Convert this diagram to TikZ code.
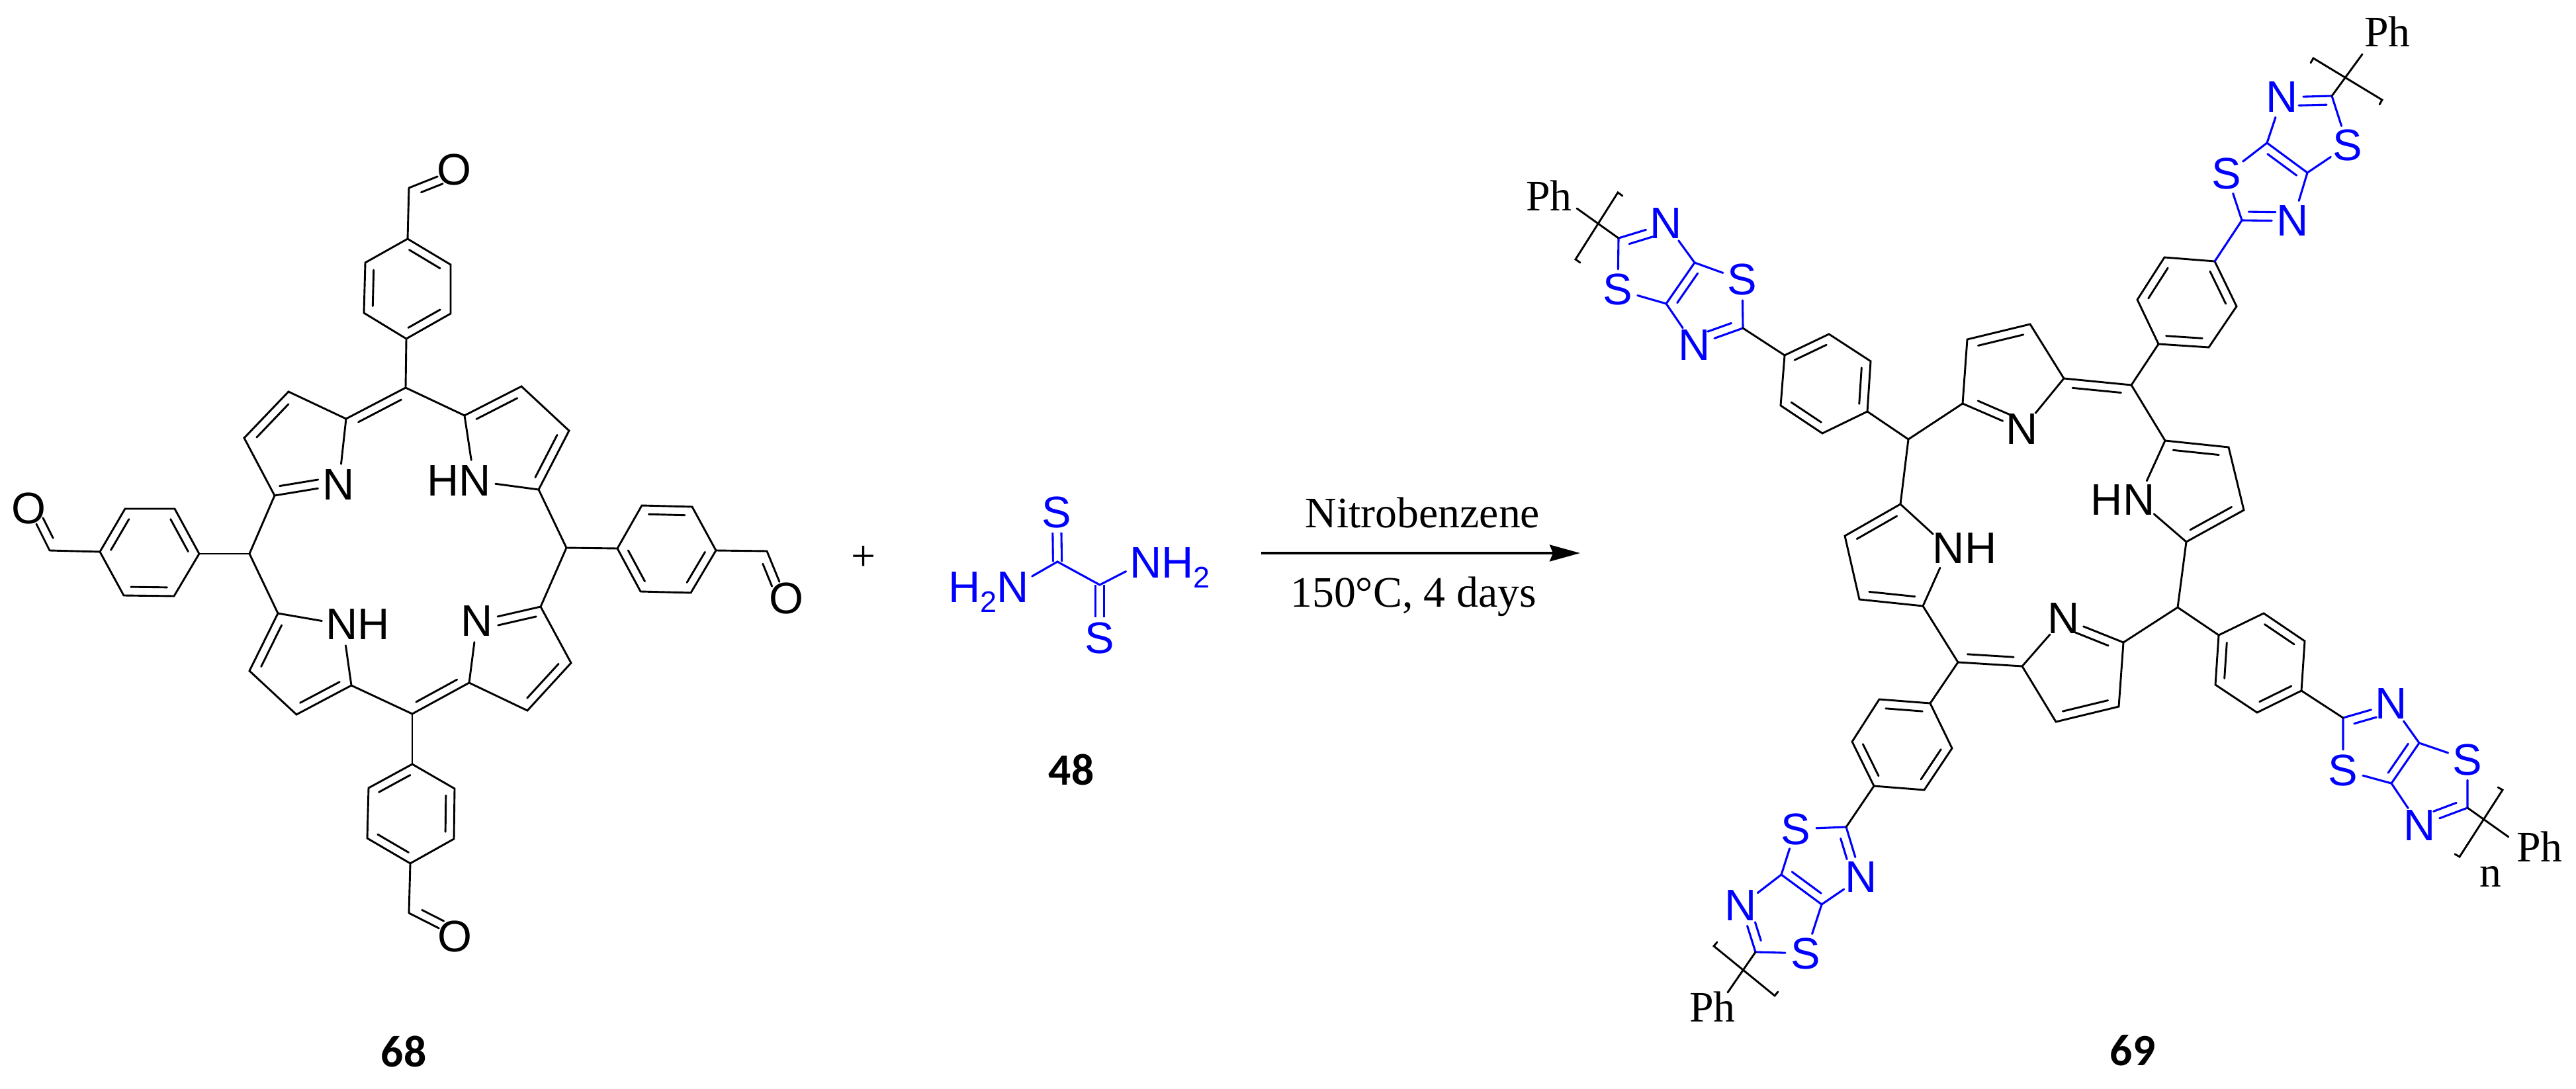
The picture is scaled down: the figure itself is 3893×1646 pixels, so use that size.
\documentclass[tikz,border=0pt]{standalone}
\usepackage{fontspec}
\setmainfont{Liberation Serif}
\newfontfamily\atomfam{Liberation Sans}
\newfontfamily\numfam{Carlito}
\usetikzlibrary{calc,arrows.meta}
\definecolor{thz}{RGB}{0,0,255}
\newcommand{\atomf}{\atomfam\fontsize{19pt}{21pt}\selectfont}
\newcommand{\serf}{\rmfamily\fontsize{18.7pt}{20pt}\selectfont}
\newcommand{\numf}{\numfam\bfseries\fontsize{19.2pt}{22pt}\selectfont}
\newcommand{\subtwo}{\raisebox{-4.4pt}{\fontsize{12.8pt}{14pt}\selectfont 2}}
\newcommand{\ibf}[4]{\draw ($(#1)!#3!(#2)!0.13cm!-90:(#2)$) -- ($(#1)!#4!(#2)!0.13cm!-90:(#2)$);}
\newcommand{\ib}[2]{\ibf{#1}{#2}{0.14}{0.86}}
\tikzset{
  atomlabel/.style={circle,inner sep=-0.01cm,outer sep=0pt,font=\atomf},
  oxlabel/.style={circle,inner sep=-0.06cm,outer sep=0pt,font=\atomf},
  hookpt/.style={circle,inner sep=0pt,outer sep=0pt,minimum size=0.64cm},
  textlabel/.style={inner sep=0pt,outer sep=0pt,anchor=base,font=\atomf},
  serlabel/.style={inner sep=0pt,outer sep=0pt,anchor=base,font=\serf},
  numlabel/.style={inner sep=0pt,outer sep=0pt,anchor=base,font=\numf},
  bondline/.style={line width=0.029cm,line cap=round,line join=miter},
  blueline/.style={color=thz,line width=0.031cm,line cap=round,line join=miter},
}
\begin{document}
\begin{tikzpicture}[x=0.01cm,y=-0.01cm]
\useasboundingbox (0,0) rectangle (3893,1646);
\fill[white] (0,0) rectangle (3893,1646);
%%%%% compound 68
\begin{scope}[bondline]
\coordinate (t1) at (616,361); \coordinate (t2) at (681,400); \coordinate (t3) at (681,474);
\coordinate (t4) at (614,512); \coordinate (t5) at (550,473); \coordinate (t6) at (552,397);
\coordinate (tc) at (618,284); \node[oxlabel] (tO) at (686,257) {O};
\coordinate (m1) at (613,586);
\coordinate (a1) at (415,749); \coordinate (a2) at (369,662); \coordinate (a3) at (436,592); \coordinate (a4) at (523,633);
\node[atomlabel] (N1) at (512,733) {N};
\coordinate (c1) at (702,628); \coordinate (c2) at (788,584); \coordinate (c3) at (860,651); \coordinate (c4) at (814,740);
\node[textlabel,anchor=center] (HNa) at (694,727) {HN}; \node[hookpt] (HNah) at (717,727) {};
\coordinate (rm) at (856,828);
\coordinate (e1) at (933,829); \coordinate (e2) at (970,764); \coordinate (e3) at (1046,766);
\coordinate (e4) at (1082,832); \coordinate (e5) at (1044,896); \coordinate (e6) at (968,894);
\coordinate (rc) at (1159,833); \node[oxlabel] (rO) at (1188,904) {O};
\coordinate (f1) at (817,917); \coordinate (f2) at (863,1002); \coordinate (f3) at (797,1074); \coordinate (f4) at (709,1032);
\node[atomlabel] (N2) at (721,939) {N};
\coordinate (m3) at (623,1079);
\coordinate (g1) at (531,1036); \coordinate (g2) at (448,1080); \coordinate (g3) at (377,1014); \coordinate (g4) at (420,927);
\node[textlabel,anchor=center] (NHa) at (541,944) {NH}; \node[hookpt] (NHah) at (518,944) {};
\coordinate (lm) at (377,837);
\coordinate (h1) at (301,837); \coordinate (h2) at (263,901); \coordinate (h3) at (187,900);
\coordinate (h4) at (151,834); \coordinate (h5) at (189,769); \coordinate (h6) at (264,769);
\coordinate (lc) at (75,832); \node[oxlabel] (lO) at (43,768) {O};
\coordinate (i1) at (623,1155); \coordinate (i2) at (687,1192); \coordinate (i3) at (686,1268);
\coordinate (i4) at (620,1305); \coordinate (i5) at (555,1267); \coordinate (i6) at (557,1191);
\coordinate (bc) at (618,1380); \node[oxlabel] (bO) at (687,1415) {O};
% rings
\draw (t1)--(t2)--(t3)--(t4)--(t5)--(t6)--cycle; \ib{t1}{t2} \ib{t3}{t4} \ib{t5}{t6}
\draw (e1)--(e2)--(e3)--(e4)--(e5)--(e6)--cycle; \ib{e2}{e3} \ib{e4}{e5} \ib{e6}{e1}
\draw (h1)--(h2)--(h3)--(h4)--(h5)--(h6)--cycle; \ib{h2}{h3} \ib{h4}{h5} \ib{h6}{h1}
\draw (i1)--(i2)--(i3)--(i4)--(i5)--(i6)--cycle; \ib{i2}{i3} \ib{i4}{i5} \ib{i6}{i1}
% aldehydes
\draw (t1)--(tc); \draw (tc)--(tO); \ibf{tc}{tO}{0.2}{0.68}
\draw (e4)--(rc); \draw (rc)--(rO); \ibf{rc}{rO}{0.2}{0.68}
\draw (h4)--(lc); \draw (lc)--(lO); \ibf{lc}{lO}{0.2}{0.68}
\draw (i4)--(bc); \draw (bc)--(bO); \ibf{bO}{bc}{0.32}{0.8}
% pyrroles
\draw (N1)--(a1)--(a2)--(a3)--(a4)--(N1); \ib{a2}{a3} \ibf{N1}{a1}{0.3}{0.9}
\draw (HNah)--(c1)--(c2)--(c3)--(c4)--(HNah); \ib{c1}{c2} \ib{c3}{c4}
\draw (N2)--(f1)--(f2)--(f3)--(f4)--(N2); \ib{f2}{f3} \ibf{N2}{f1}{0.3}{0.9}
\draw (NHah)--(g1)--(g2)--(g3)--(g4)--(NHah); \ib{g1}{g2} \ib{g3}{g4}
% meso links
\draw (t4)--(m1); \draw (a4)--(m1); \ib{a4}{m1} \draw (m1)--(c1);
\draw (c4)--(rm)--(f1); \draw (rm)--(e1);
\draw (f4)--(m3); \ib{f4}{m3} \draw (m3)--(g1); \draw (m3)--(i1);
\draw (g4)--(lm)--(a1); \draw (lm)--(h1);
\end{scope}
\node[numlabel] (lab68) at (610,1612) {68};
%%%%% plus
\node[serlabel,anchor=center] (plus) at (1305,844) {+};
%%%%% compound 48
\begin{scope}[blueline]
\coordinate (oa) at (1598,849); \coordinate (ob) at (1662,884);
\node[atomlabel] (oS1) at (1597,774) {S};
\node[atomlabel] (oS2) at (1662,964) {S};
\node[textlabel] (oHN) at (1494,910) {H\subtwo N}; \node[hookpt] (oHNh) at (1532,887) {};
\node[textlabel] (oNH) at (1768,873) {NH\subtwo}; \node[hookpt] (oNHh) at (1730,849) {};
\draw[double=white,double distance=0.1cm,line cap=butt] (oa)--(oS1);
\draw[double=white,double distance=0.1cm,line cap=butt] (ob)--(oS2);
\draw (oHNh)--(oa)--(ob)--(oNHh);
\end{scope}
\node[numlabel] (lab48) at (1619,1186) {48};
%%%%% arrow
\coordinate (arrS) at (1906,836); \coordinate (arrE) at (2388,836);
\draw[line width=0.036cm,-{Stealth[length=0.46cm,width=0.25cm,inset=0.05cm]}] (arrS)--(arrE);
\node[serlabel] (nitro) at (2150,797) {Nitrobenzene};
\node[serlabel] (cond) at (2136,917) {150°C, 4 days};
%%%%% compound 69 : porphyrin core
\begin{scope}[bondline]
\coordinate (mT) at (3221,582); \coordinate (mR) at (3291,918); \coordinate (mB) at (2959,1001); \coordinate (mL) at (2884,664);
\coordinate (pA1) at (3119,572); \coordinate (pA2) at (3068,490); \coordinate (pA3) at (2973,513); \coordinate (pA4) at (2966,610);
\node[atomlabel] (NA) at (3056,649) {N};
\coordinate (hA1) at (3272,666); \coordinate (hA2) at (3368,676); \coordinate (hA3) at (3391,771); \coordinate (hA4) at (3304,819);
\node[textlabel,anchor=center] (HNb) at (3208,756) {HN}; \node[hookpt] (HNbh) at (3231,756) {};
\coordinate (lA1) at (3209,971); \coordinate (lA2) at (3202,1068); \coordinate (lA3) at (3107,1091); \coordinate (lA4) at (3056,1007);
\node[atomlabel] (NL) at (3119,935) {N};
\coordinate (nA1) at (2906,916); \coordinate (nA2) at (2810,906); \coordinate (nA3) at (2788,810); \coordinate (nA4) at (2872,762);
\node[textlabel,anchor=center] (NHb) at (2969,829) {NH}; \node[hookpt] (NHbh) at (2945,829) {};
\coordinate (ra1) at (3347,395); \coordinate (ra2) at (3380,463); \coordinate (ra3) at (3338,525);
\coordinate (ra4) at (3262,520); \coordinate (ra5) at (3230,453); \coordinate (ra6) at (3271,389);
\coordinate (rb1) at (2822,622); \coordinate (rb2) at (2827,546); \coordinate (rb3) at (2764,505);
\coordinate (rb4) at (2697,537); \coordinate (rb5) at (2691,613); \coordinate (rb6) at (2754,655);
\coordinate (rc1) at (2917,1063); \coordinate (rc2) at (2950,1131); \coordinate (rc3) at (2908,1194);
\coordinate (rc4) at (2832,1188); \coordinate (rc5) at (2799,1121); \coordinate (rc6) at (2840,1057);
\coordinate (rd1) at (3353,960); \coordinate (rd2) at (3421,927); \coordinate (rd3) at (3483,969);
\coordinate (rd4) at (3478,1044); \coordinate (rd5) at (3411,1077); \coordinate (rd6) at (3348,1035);
\draw (ra1)--(ra2)--(ra3)--(ra4)--(ra5)--(ra6)--cycle; \ib{ra1}{ra2} \ib{ra3}{ra4} \ib{ra5}{ra6}
\draw (rb1)--(rb2)--(rb3)--(rb4)--(rb5)--(rb6)--cycle; \ib{rb4}{rb3} \ib{rb2}{rb1} \ib{rb6}{rb5}
\draw (rc1)--(rc2)--(rc3)--(rc4)--(rc5)--(rc6)--cycle; \ib{rc2}{rc3} \ib{rc4}{rc5} \ib{rc6}{rc1}
\draw (rd1)--(rd2)--(rd3)--(rd4)--(rd5)--(rd6)--cycle; \ib{rd6}{rd1} \ib{rd2}{rd3} \ib{rd4}{rd5}
\draw (pA1)--(pA2)--(pA3)--(pA4)--(NA)--(pA1); \ib{pA3}{pA2} \ibf{NA}{pA4}{0.24}{0.8}
\draw (HNbh)--(hA1)--(hA2)--(hA3)--(hA4)--(HNbh); \ib{hA1}{hA2} \ib{hA3}{hA4}
\draw (NL)--(lA1)--(lA2)--(lA3)--(lA4)--(NL); \ib{lA2}{lA3} \ibf{NL}{lA1}{0.25}{0.8}
\draw (NHbh)--(nA1)--(nA2)--(nA3)--(nA4)--(NHbh); \ib{nA1}{nA2} \ib{nA3}{nA4}
\draw (pA1)--(mT); \ib{pA1}{mT} \draw (mT)--(hA1); \draw (mT)--(ra4);
\draw (hA4)--(mR)--(lA1); \draw (mR)--(rd1);
\draw (lA4)--(mB); \ib{lA4}{mB} \draw (mB)--(nA1); \draw (mB)--(rc1);
\draw (nA4)--(mL)--(pA4); \draw (mL)--(rb1);
\end{scope}
%%%%% compound 69 : top right thiazolothiazole
\begin{scope}[blueline]
\coordinate (qa1) at (3388,333); \coordinate (qa2) at (3426,216); \coordinate (qa3) at (3487,261); \coordinate (qa4) at (3524,145);
\node[atomlabel] (qS1) at (3365,263) {S}; \node[atomlabel] (qN1) at (3465,334) {N};
\node[atomlabel] (qN2) at (3449,147) {N}; \node[atomlabel] (qS2) at (3548,220) {S};
\draw (ra1)--(qa1); \draw (qa1)--(qS1)--(qa2); \draw (qa1)--(qN1)--(qa3);
\ibf{qN1}{qa1}{0.34}{0.87}
\draw (qa2)--(qa3); \ib{qa2}{qa3}
\draw (qa2)--(qN2)--(qa4); \ibf{qN2}{qa4}{0.33}{0.89}
\draw (qa3)--(qS2)--(qa4);
\end{scope}
%%%%% top left thiazolothiazole
\begin{scope}[blueline]
\coordinate (sa1) at (2634,496); \coordinate (sa2) at (2561,397); \coordinate (sa3) at (2518,459); \coordinate (sa4) at (2446,360);
\node[atomlabel] (sS1) at (2633,423) {S}; \node[atomlabel] (sN1) at (2561,522) {N};
\node[atomlabel] (sN2) at (2518,338) {N}; \node[atomlabel] (sS2) at (2445,438) {S};
\draw (sa1)--(sS1)--(sa2); \draw (sa1)--(sN1)--(sa3);
\ibf{sa1}{sN1}{0.18}{0.67}
\draw (sa3)--(sa2); \ib{sa3}{sa2}
\draw (sa2)--(sN2)--(sa4); \ibf{sa4}{sN2}{0.17}{0.67}
\draw (sa3)--(sS2)--(sa4);
\end{scope}
%%%%% bottom left thiazolothiazole
\begin{scope}[blueline]
\coordinate (ua1) at (2790,1250); \coordinate (ua2) at (2753,1367); \coordinate (ua3) at (2692,1322); \coordinate (ua4) at (2653,1439);
\node[atomlabel] (uS1) at (2714,1253) {S}; \node[atomlabel] (uN1) at (2813,1326) {N};
\node[atomlabel] (uN2) at (2631,1369) {N}; \node[atomlabel] (uS2) at (2729,1441) {S};
\draw (ua1)--(uS1)--(ua3); \draw (ua1)--(uN1)--(ua2);
\ibf{ua1}{uN1}{0.18}{0.59}
\draw (ua2)--(ua3); \ib{ua2}{ua3}
\draw (ua3)--(uN2)--(ua4); \ibf{ua4}{uN2}{0.19}{0.59}
\draw (ua2)--(uS2)--(ua4);
\end{scope}
%%%%% bottom right thiazolothiazole
\begin{scope}[blueline]
\coordinate (va1) at (3541,1085); \coordinate (va2) at (3656,1123); \coordinate (va3) at (3614,1184); \coordinate (va4) at (3729,1221);
\node[atomlabel] (vS1) at (3541,1164) {S}; \node[atomlabel] (vN1) at (3614,1064) {N};
\node[atomlabel] (vS2) at (3729,1148) {S}; \node[atomlabel] (vN2) at (3657,1248) {N};
\draw (va1)--(vS1)--(va3); \draw (va1)--(vN1)--(va2);
\ibf{va1}{vN1}{0.18}{0.64}
\draw (va2)--(va3); \ib{va2}{va3}
\draw (va3)--(vN2)--(va4); \ibf{va4}{vN2}{0.17}{0.65}
\draw (va2)--(vS2)--(va4);
\end{scope}
%%%%% black linkers, end groups, brackets
\begin{scope}[bondline]
\draw (rb4)--(sa1); \draw (rc4)--(ua1); \draw (rd4)--(va1);
\node[serlabel] (phq) at (3608,71) {Ph};
\coordinate (phqe) at (3570,82); \draw (qa4)--(phqe);
\coordinate (qb1) at (3492,95); \coordinate (qb2) at (3496,88); \coordinate (qb3) at (3600,151); \coordinate (qb4) at (3596,158);
\draw (qb1)--(qb2)--(qb3)--(qb4);
\node[serlabel] (phs) at (2341,319) {Ph};
\coordinate (phse) at (2383,315); \draw (sa4)--(phse);
\coordinate (sb1) at (2452,296); \coordinate (sb2) at (2445,291); \coordinate (sb3) at (2381,392); \coordinate (sb4) at (2388,397);
\draw (sb1)--(sb2)--(sb3)--(sb4);
\node[serlabel] (phu) at (2588,1544) {Ph};
\coordinate (phue) at (2611,1500); \draw (ua4)--(phue);
\coordinate (ub1) at (2595,1424); \coordinate (ub2) at (2590,1430); \coordinate (ub3) at (2682,1505); \coordinate (ub4) at (2687,1499);
\draw (ub1)--(ub2)--(ub3)--(ub4);
\node[serlabel] (phv) at (3838,1302) {Ph};
\coordinate (phve) at (3791,1265); \draw (va4)--(phve);
\coordinate (vb1) at (3775,1190); \coordinate (vb2) at (3782,1194); \coordinate (vb3) at (3717,1295); \coordinate (vb4) at (3710,1291);
\draw (vb1)--(vb2)--(vb3)--(vb4);
\node[serlabel] (nlab) at (3764,1340) {n};
\end{scope}
\node[numlabel] (lab69) at (3223,1610) {69};
\end{tikzpicture}
\end{document}
